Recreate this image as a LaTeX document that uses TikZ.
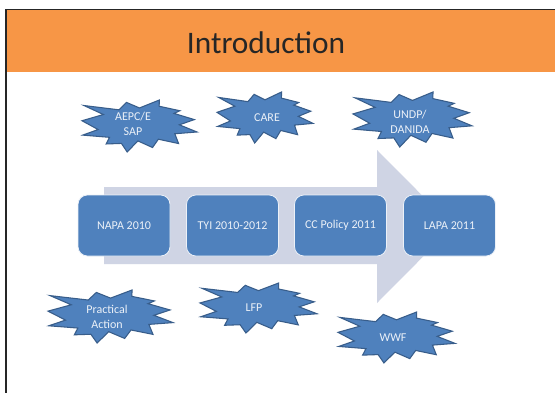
\documentclass[tikz,border=0pt]{standalone}
\usepackage{fontspec}
\setmainfont{Carlito}
\usepackage{tikz}
\usetikzlibrary{positioning}
\definecolor{hdrorange}{RGB}{247,150,70}
\definecolor{boxblue}{RGB}{79,129,189}
\definecolor{sealedge}{RGB}{56,93,138}
\definecolor{arrowgrey}{RGB}{207,212,228}
\definecolor{lighttext}{RGB}{236,241,248}

\begin{document}
\begin{tikzpicture}
  [x=.75pt,y=-.75pt,every node/.style={font=\fontsize{9}{10.8}\selectfont,text=lighttext,align=center,inner sep=0pt},
   box/.style={rectangle,rounded corners=7pt,fill=boxblue,draw=lighttext,line width=.6pt,minimum width=69pt,minimum height=45.75pt},
   seal/.pic={\filldraw[fill=boxblue,draw=sealedge,line width=.8pt]
     (0,-.347) -- (.1723,-.5) -- (.171,-.38) -- (.3509,-.2936) -- (.3,-.242)
     -- (.4767,-.1233) -- (.347,-.0225) -- (.5,.1153) -- (.307,.149) -- (.34,.3377)
     -- (.164,.254) -- (.1133,.4137) -- (-.014,.287) -- (-.1072,.5) -- (-.157,.335)
     -- (-.2895,.3456) -- (-.261,.218) -- (-.4937,.1753) -- (-.36,.068) -- (-.5,-.1012)
     -- (-.314,-.221) -- (-.4829,-.3937) -- (-.178,-.311) -- (-.1133,-.4537) -- cycle;}]
  \useasboundingbox (0,0) rectangle (555,392);
  \clip (0,0) rectangle (555,392);

  % slide frame and header
  \fill[white] (0,0) rectangle (555,392);
  \fill[hdrorange] (6,10) rectangle (560,72);
  \draw[line width=1.3pt,black!85] (6,400) |- (560,9.5);
  \node (title) [text=black!85,font=\fontsize{23.5}{28}\selectfont] at (266,43) {Introduction};

  % big arrow
  \fill[arrowgrey] (104,187) -- (377,187) -- (377,150) -- (453,226.5) -- (377,303) -- (377,264) -- (104,264) -- cycle;

  \node (napa) [box] at (124,225.5) {NAPA 2010};
  \node (tyi) [box] at (232.5,225.5) {TYI 2010-2012};
  \node (ccp) [box] at (340.5,225.5) {CC Policy 2011};
  \node (lapa) [box] at (449.5,225.5) {LAPA 2011};

  % partners
  \pic[xscale=115,yscale=52] at (139.5,126) {seal};
  \node (aepc) at (133,124) {AEPC/E\\SAP};
  \pic[xscale=96,yscale=51] at (265,117.5) {seal};
  \node (care) at (267,118) {CARE};
  \pic[xscale=119,yscale=55] at (412.5,119.5) {seal};
  \node (undp) at (410,122) {UNDP/\\DANIDA};
  \pic[xscale=125,yscale=53] at (110.5,316.5) {seal};
  \node (pract) at (107,317) {Practical\\Action};
  \pic[xscale=117,yscale=50] at (258.5,308) {seal};
  \node (lfp) at (254,308) {LFP};
  \pic[xscale=117,yscale=51] at (396.5,337.5) {seal};
  \node (wwf) at (393,338) {WWF};
\end{tikzpicture}
\end{document}
